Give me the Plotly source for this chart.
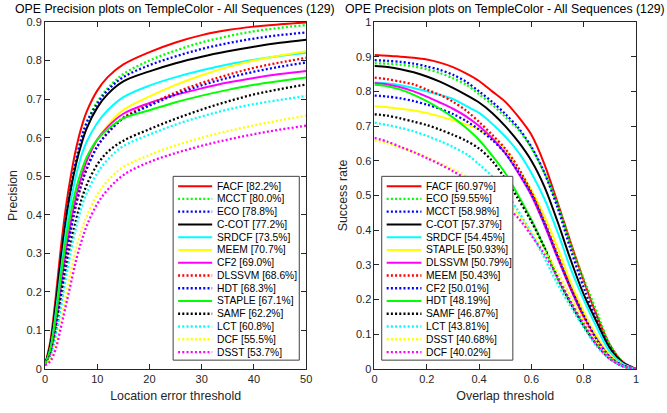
import plotly.graph_objects as go

# ---------------- data ----------------
prec_thr = [0, 1, 2, 3, 4, 5, 6, 7, 8, 10, 12, 15, 20, 25, 30, 35, 40, 45, 50]
prec_names = ["FACF", "MCCT", "ECO", "C-COT", "SRDCF", "MEEM", "CF2", "DLSSVM",
              "HDT", "STAPLE", "SAMF", "LCT", "DCF", "DSST"]
prec_scores = ["82.2%", "80.0%", "78.8%", "77.2%", "73.5%", "70.7%", "69.0%", "68.6%",
               "68.3%", "67.1%", "62.2%", "60.8%", "55.5%", "53.7%"]
p_facf = [.01, .07, .18, .31, .42, .505, .575, .628, .668, .722, .757, .79, .822, .847, .866, .879, .888, .894, .899]
p_mcct = [.01, .06, .16, .28, .39, .475, .545, .60, .64, .693, .728, .765, .800, .826, .847, .863, .876, .885, .892]
p_eco = [.01, .06, .16, .28, .39, .475, .545, .60, .64, .688, .723, .757, .788, .811, .83, .845, .857, .866, .873]
p_ccot = [.01, .06, .16, .28, .385, .47, .535, .585, .625, .678, .713, .746, .772, .793, .81, .824, .836, .846, .854]
p_srdcf = [.01, .05, .14, .25, .355, .44, .505, .555, .59, .638, .671, .705, .735, .757, .775, .79, .802, .812, .820]
p_meem = [.01, .04, .11, .21, .305, .385, .45, .50, .54, .595, .632, .672, .707, .737, .762, .783, .800, .813, .824]
p_cf2 = [.01, .04, .11, .21, .305, .385, .45, .50, .54, .595, .628, .662, .690, .711, .728, .743, .755, .765, .773]
p_dlssvm = [.01, .04, .10, .19, .285, .365, .43, .48, .52, .577, .613, .652, .686, .717, .742, .763, .781, .795, .807]
p_hdt = [.01, .04, .10, .19, .285, .365, .43, .48, .52, .577, .612, .65, .683, .712, .736, .755, .771, .784, .795]
p_staple = [.01, .05, .13, .235, .335, .41, .47, .515, .55, .595, .622, .65, .671, .692, .709, .724, .737, .747, .756]
p_samf = [.01, .035, .09, .17, .255, .33, .39, .44, .478, .53, .563, .592, .622, .649, .673, .694, .712, .726, .738]
p_lct = [.01, .03, .08, .155, .235, .31, .37, .42, .457, .508, .543, .578, .608, .634, .655, .673, .687, .698, .708]
p_dcf = [.01, .025, .06, .12, .19, .255, .315, .36, .397, .452, .488, .524, .555, .58, .60, .617, .632, .645, .657]
p_dsst = [.01, .02, .05, .105, .165, .225, .285, .332, .372, .428, .465, .503, .537, .56, .579, .595, .609, .621, .631]
prec_values = [p_facf, p_mcct, p_eco, p_ccot, p_srdcf, p_meem, p_cf2, p_dlssvm,
               p_hdt, p_staple, p_samf, p_lct, p_dcf, p_dsst]

succ_thr = [0, 0.05, 0.1, 0.15, 0.2, 0.25, 0.3, 0.35, 0.4, 0.45, 0.5, 0.55, 0.6, 0.65,
            0.7, 0.75, 0.8, 0.85, 0.9, 0.95, 1.0]
succ_names = ["FACF", "ECO", "MCCT", "C-COT", "SRDCF", "STAPLE", "DLSSVM", "MEEM",
              "CF2", "HDT", "SAMF", "LCT", "DSST", "DCF"]
succ_scores = ["60.97%", "59.55%", "58.98%", "57.37%", "54.45%", "50.93%", "50.79%", "50.43%",
               "50.01%", "48.19%", "46.87%", "43.81%", "40.68%", "40.02%"]
s_facf = [.905, .903, .90, .897, .892, .883, .87, .852, .83, .80, .77, .727, .675, .59, .48, .365, .255, .155, .07, .02, 0]
s_eco = [.881, .880, .877, .872, .864, .853, .838, .82, .792, .762, .727, .69, .637, .565, .475, .36, .26, .165, .07, .02, 0]
s_mcct = [.890, .888, .885, .88, .872, .862, .848, .828, .80, .77, .735, .695, .64, .565, .465, .345, .235, .14, .06, .018, 0]
s_ccot = [.873, .870, .864, .855, .843, .828, .81, .79, .768, .738, .70, .655, .60, .525, .425, .315, .215, .135, .06, .018, 0]
s_srdcf = [.826, .823, .818, .81, .80, .79, .778, .758, .738, .707, .67, .625, .565, .49, .395, .29, .20, .12, .05, .015, 0]
s_staple = [.757, .754, .750, .745, .738, .728, .717, .705, .69, .665, .632, .575, .515, .44, .35, .25, .165, .095, .04, .012, 0]
s_dlssvm = [.824, .82, .812, .80, .785, .768, .75, .728, .70, .665, .622, .565, .50, .415, .32, .23, .15, .085, .035, .01, 0]
s_meem = [.840, .835, .828, .82, .805, .79, .77, .745, .712, .675, .635, .58, .51, .425, .33, .235, .15, .08, .03, .008, 0]
s_cf2 = [.788, .785, .78, .772, .762, .75, .735, .715, .69, .66, .622, .568, .505, .42, .325, .235, .155, .085, .035, .01, 0]
s_hdt = [.819, .815, .805, .79, .772, .75, .725, .695, .66, .615, .565, .50, .43, .35, .26, .19, .125, .07, .03, .008, 0]
s_samf = [.734, .73, .722, .713, .703, .69, .675, .658, .635, .60, .548, .49, .425, .35, .265, .19, .125, .07, .03, .008, 0]
s_lct = [.710, .703, .695, .685, .672, .657, .64, .62, .59, .555, .51, .455, .39, .32, .245, .18, .12, .065, .028, .008, 0]
s_dsst = [.659, .65, .638, .625, .61, .594, .576, .556, .534, .51, .484, .445, .395, .34, .28, .21, .14, .08, .033, .008, 0]
s_dcf = [.666, .655, .64, .625, .608, .59, .57, .548, .523, .497, .47, .435, .385, .33, .265, .195, .13, .07, .03, .008, 0]
succ_values = [s_facf, s_eco, s_mcct, s_ccot, s_srdcf, s_staple, s_dlssvm, s_meem,
               s_cf2, s_hdt, s_samf, s_lct, s_dsst, s_dcf]

prec_xticks = [0, 10, 20, 30, 40, 50]
prec_yticks = [0, 0.1, 0.2, 0.3, 0.4, 0.5, 0.6, 0.7, 0.8, 0.9]
succ_xticks = [0, 0.2, 0.4, 0.6, 0.8, 1]
succ_yticks = [0, 0.1, 0.2, 0.3, 0.4, 0.5, 0.6, 0.7, 0.8, 0.9, 1]

# rank styles (MATLAB OTB toolkit ordering)
rank_colors = ["#FF0000", "#00FF00", "#0000FF", "#000000", "#00FFFF", "#FFFF00", "#FF00FF",
               "#FF0000", "#0000FF", "#00FF00", "#000000", "#00FFFF", "#FFFF00", "#FF00FF"]
rank_dotted = [False, True, True, False, False, False, False,
               True, True, False, True, True, True, True]

# ---------------- layout geometry ----------------
W, H = 667, 413
ML, MR, MT, MB = 41, 31, 22, 38
PW = W - ML - MR
PH = H - MT - MB
FONT = "Liberation Sans, Arial, Helvetica, sans-serif"
TXT = "#262626"
DOT = "2px,2.2px"


def px2x(px):
    return (px - ML) / PW


def py2y(py):
    return (H - MB - py) / PH


def line_style(i):
    return dict(color=rank_colors[i], width=2.3 if rank_dotted[i] else 2,
                dash=DOT if rank_dotted[i] else "solid")


fig = go.Figure()

for i, (name, vals) in enumerate(zip(prec_names, prec_values)):
    fig.add_trace(go.Scatter(
        x=prec_thr, y=vals, mode="lines", name=name, showlegend=False,
        line=dict(shape="spline", smoothing=1.0, **line_style(i)),
        xaxis="x", yaxis="y"))

for i, (name, vals) in enumerate(zip(succ_names, succ_values)):
    fig.add_trace(go.Scatter(
        x=succ_thr, y=vals, mode="lines", name=name, showlegend=False,
        line=dict(shape="spline", smoothing=0.9, **line_style(i)),
        xaxis="x2", yaxis="y2"))

axis_common = dict(showgrid=False, zeroline=False, showline=True, linecolor=TXT, linewidth=1,
                   mirror="ticks", ticks="inside", ticklen=5, tickcolor=TXT,
                   tickfont=dict(family=FONT, size=11, color=TXT))
title_font = dict(family=FONT, size=12.4, color=TXT)

left_end = (304 - ML) / PW
right_start = (372.7 - ML) / PW

fig.update_layout(
    width=W, height=H, margin=dict(l=ML, r=MR, t=MT, b=MB),
    paper_bgcolor="white", plot_bgcolor="white", showlegend=False,
    xaxis=dict(domain=[0, left_end], range=[0, 50], tickvals=prec_xticks,
               title=dict(text="Location error threshold", font=title_font, standoff=7),
               **axis_common),
    yaxis=dict(domain=[0, 1], range=[0, 0.9], tickvals=prec_yticks,
               title=dict(text="Precision", font=title_font, standoff=6),
               **axis_common),
    xaxis2=dict(domain=[right_start, 1], range=[0, 1], tickvals=succ_xticks, anchor="y2",
                title=dict(text="Overlap threshold", font=title_font, standoff=7),
                **axis_common),
    yaxis2=dict(domain=[0, 1], range=[0, 1], tickvals=succ_yticks, anchor="x2",
                title=dict(text="Success rate", font=title_font, standoff=5),
                **axis_common),
)

shapes = []
annotations = []

# titles
title_text = "OPE Precision plots on TempleColor - All Sequences (129)"
for cx in (172, 504):
    annotations.append(dict(text=title_text, x=px2x(cx), y=py2y(9), xref="paper", yref="paper",
                            xanchor="center", yanchor="middle", showarrow=False,
                            font=dict(family=FONT, size=12.3, color="#000000")))


def add_legend(names, scores, box_l, box_r, samp_l, samp_r, text_l):
    box_t, box_b = 179, 366
    shapes.append(dict(type="rect", xref="paper", yref="paper",
                       x0=px2x(box_l), x1=px2x(box_r), y0=py2y(box_b), y1=py2y(box_t),
                       fillcolor="white", line=dict(color="#404040", width=1), layer="above"))
    for i, (n, s) in enumerate(zip(names, scores)):
        yy = 189 + i * 12.98
        shapes.append(dict(type="line", xref="paper", yref="paper",
                           x0=px2x(samp_l), x1=px2x(samp_r), y0=py2y(yy), y1=py2y(yy),
                           line=line_style(i), layer="above"))
        annotations.append(dict(text=f"{n} [{s}]", x=px2x(text_l), y=py2y(yy), xref="paper", yref="paper",
                                xanchor="left", yanchor="middle", showarrow=False,
                                font=dict(family=FONT, size=10.3, color="#000000")))


add_legend(prec_names, prec_scores, 170, 297, 175, 209.3, 212)
add_legend(succ_names, succ_scores, 380, 512, 385, 420, 423)

fig.update_layout(shapes=shapes, annotations=annotations)
fig.write_html("out.html")
